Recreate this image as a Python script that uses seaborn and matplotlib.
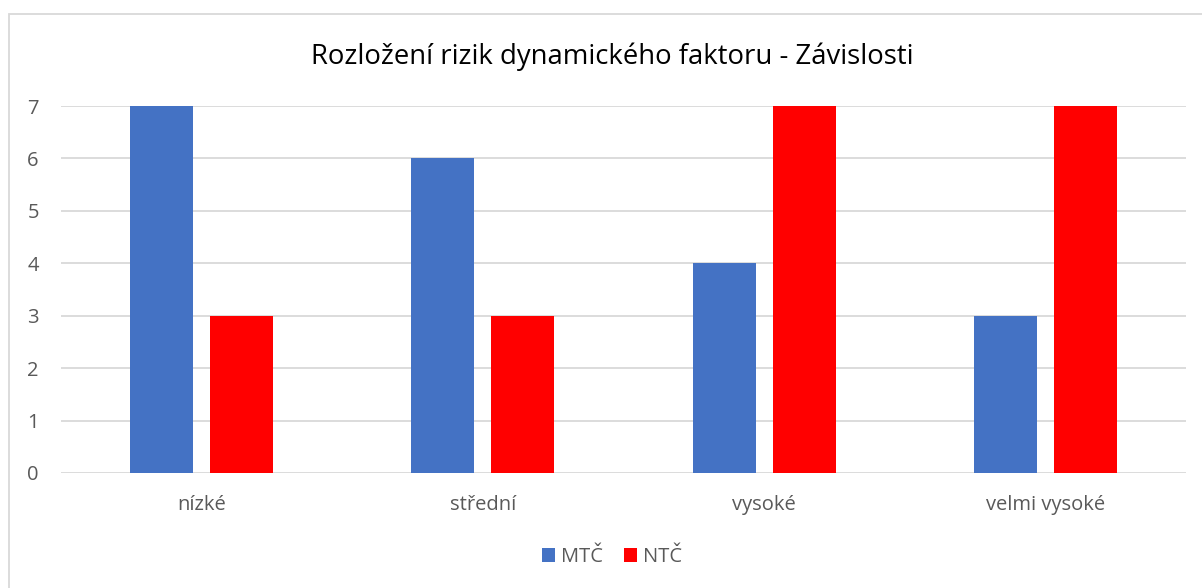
import matplotlib
matplotlib.use("Agg")
import matplotlib.pyplot as plt
from matplotlib.patches import Rectangle
import pandas as pd
import seaborn as sns

categories = ["nízké", "střední", "vysoké", "velmi vysoké"]
series_names = ["MTČ", "NTČ"]
mtc_values = [7, 6, 4, 3]
ntc_values = [3, 3, 7, 7]
y_ticks = [0, 1, 2, 3, 4, 5, 6, 7]
title = "Rozložení rizik dynamického faktoru - Závislosti"

df = pd.DataFrame({
    "kategorie": categories * 2,
    "skupina": [series_names[0]] * len(categories) + [series_names[1]] * len(categories),
    "počet": mtc_values + ntc_values,
})

sns.set_theme(style="white")
plt.rcParams["font.family"] = ["Open Sans", "DejaVu Sans"]

fig = plt.figure(figsize=(12.02, 5.88), dpi=100)
ax = fig.add_axes([61 / 1202, 1 - 473 / 588, (1186 - 61) / 1202, (473 - 106) / 588])

palette = {"MTČ": "#4472C4", "NTČ": "#FF0000"}
sns.barplot(data=df, x="kategorie", y="počet", hue="skupina", order=categories,
            hue_order=series_names, palette=palette, width=0.569, gap=0.2125,
            saturation=1, linewidth=0, ax=ax, legend=True, zorder=3)

ax.set_xlim(-0.5, len(categories) - 0.5)
ax.set_ylim(0, 7)
ax.set_yticks(y_ticks)
ax.set_yticklabels([str(t) for t in y_ticks])
ax.yaxis.grid(True, color="#d9d9d9", linewidth=1.3, zorder=0)
ax.set_axisbelow(True)
for s in ax.spines.values():
    s.set_visible(False)
ax.set_xlabel("")
ax.set_ylabel("")
ax.tick_params(axis="both", length=0, labelsize=14.5, labelcolor="#595959")
ax.tick_params(axis="y", pad=16)
ax.tick_params(axis="x", pad=16)

handles, labels = ax.get_legend_handles_labels()
ax.legend_.remove()
fig.legend(handles, labels, loc="center", bbox_to_anchor=(612 / 1202, 1 - 557 / 588),
           ncol=2, frameon=False, fontsize=14.5, handlelength=0.65, handleheight=0.65,
           handletextpad=0.3, columnspacing=1.0, labelcolor="#595959")

fig.text(612 / 1202, 1 - 57 / 588, title, ha="center", va="center",
         fontsize=19.8, color="#000000")

# chart frame
fig.patches.append(Rectangle((9 / 1202, -0.1), 1.2, 1 - 14 / 588 + 0.1,
                             transform=fig.transFigure, fill=False,
                             edgecolor="#d9d9d9", linewidth=1.3, zorder=0))

fig.savefig("out.png", dpi=100, facecolor="white")
